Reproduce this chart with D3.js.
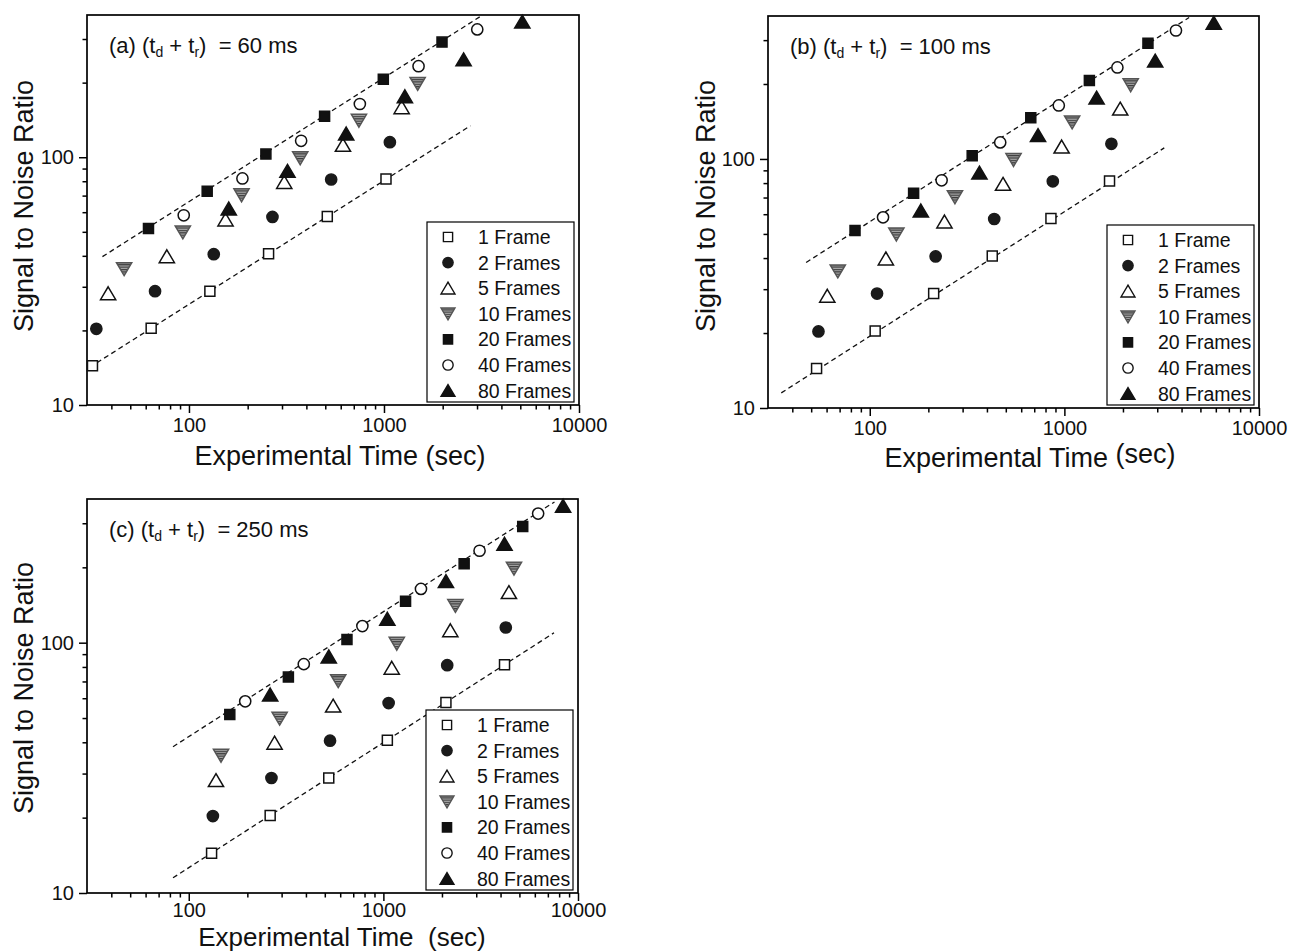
<!DOCTYPE html>
<html><head><meta charset="utf-8">
<script src="https://cdn.jsdelivr.net/npm/d3@7"></script>
<style>
body{margin:0;background:#fff;}
svg{display:block;font-family:"Liberation Sans",Arial,Helvetica,sans-serif;}
</style></head><body>
<svg id="chart" width="1291" height="951"></svg>
<script>
// ---------- data ----------
const seriesNames = ["1 Frame","2 Frames","5 Frames","10 Frames","20 Frames","40 Frames","80 Frames"];

// signal-to-noise ratio (same for every panel)
const snr1  = [14.4, 20.4, 28.8, 40.8, 57.7, 81.6];
const snr2  = [20.3, 28.8, 40.6, 57.4, 81.3, 115];
const snr5  = [28.2, 39.8, 56.0, 79.3, 112, 159];
const snr10 = [35.4, 49.8, 70.3, 99.2, 140.5, 198];
const snr20 = [51.6, 72.9, 103, 146.5, 206.5, 291.5];
const snr40 = [58.3, 82.1, 116.5, 164, 233, 328];
const snr80 = [62, 88, 124.5, 176, 248, 352];

// experimental time (sec), panel (a) 60 ms
const timeA = [
  [32, 64, 128, 256, 512, 1024],
  [33.5, 67, 134, 268, 536, 1072],
  [38.5, 77, 154, 308, 616, 1232],
  [46.5, 93, 186, 372, 744, 1488],
  [62, 124, 248, 496, 992, 1984],
  [94, 188, 376, 752, 1504, 3008],
  [160, 320, 640, 1280, 2560, 5120]
];
// panel (b) 100 ms
const timeB = [
  [53.3, 106.6, 213, 426, 853, 1706],
  [54.5, 109, 218, 436, 872, 1744],
  [60.5, 121, 242, 484, 968, 1936],
  [68.5, 137, 274, 548, 1096, 2192],
  [84, 168, 336, 672, 1344, 2688],
  [117, 234, 468, 936, 1872, 3744],
  [183, 366, 732, 1464, 2928, 5856]
];
// panel (c) 250 ms
const timeC = [
  [131, 262, 524, 1048, 2096, 4192],
  [133, 266, 532, 1064, 2128, 4256],
  [138, 276, 552, 1104, 2208, 4416],
  [146.5, 293, 586, 1172, 2344, 4688],
  [162.5, 325, 650, 1300, 2600, 5200],
  [195, 390, 780, 1560, 3120, 6240],
  [262, 524, 1048, 2096, 4192, 8384]
];

// dashed guide lines (time, snr) end points
const fitA = [[[36, 39.7], [3190, 374]], [[31, 14.2], [2775, 134]]];
const fitB = [[[47.1, 38.4], [4375, 370]], [[35.1, 11.5], [3260, 110.8]]];
const fitC = [[[83, 38.4], [7570, 365]], [[83, 11.5], [7530, 109.5]]];

const xTickLabels = [100, 1000, 10000];
const yTickLabels = [10, 100];
const xMinorTicks = [40,50,60,70,80,90,200,300,400,500,600,700,800,900,2000,3000,4000,5000,6000,7000,8000,9000];
const yMinorTicks = [20,30,40,50,60,70,80,90,200,300];
const xDomain = [30, 10000];
const yDomain = [10, 375];

const panelLetters = ["(a)", "(b)", "(c)"];
const panelDelays = ["60 ms", "100 ms", "250 ms"];

// ---------- drawing ----------
const snrs = [snr1, snr2, snr5, snr10, snr20, snr40, snr80];
const svg = d3.select("#chart");

const defs = svg.append("defs");
const pat = defs.append("pattern").attr("id","hatch").attr("patternUnits","userSpaceOnUse")
  .attr("width",4).attr("height",2.4);
pat.append("rect").attr("width",4).attr("height",2.4).attr("fill","#a8a8a8");
pat.append("rect").attr("width",4).attr("height",1.2).attr("fill","#3c3c3c");

// marker shapes
const markerStyles = [
  {shape:"square",  fill:"#fff", stroke:"#111"},
  {shape:"circle",  fill:"#1a1a1a", stroke:"#1a1a1a"},
  {shape:"triUp",   fill:"#fff", stroke:"#111"},
  {shape:"triDown", fill:"url(#hatch)", stroke:"#555"},
  {shape:"square",  fill:"#111", stroke:"#111"},
  {shape:"circle",  fill:"#fff", stroke:"#111"},
  {shape:"triUp",   fill:"#111", stroke:"#111"}
];
function shapePath(s){
  switch(s){
    case "square": return "M-5,-5H5V5H-5Z";
    case "circle": return "M5.6,0A5.6,5.6 0 1,1 -5.6,0A5.6,5.6 0 1,1 5.6,0Z";
    case "triUp": return "M0,-6.6L7.6,6.3L-7.6,6.3Z";
    case "triDown": return "M0,6.6L7.6,-6.3L-7.6,-6.3Z";
  }
}

const panels = [
  {left:87, right:579, top:15, bottom:405, times:timeA, fits:fitA, tickPad:5,
   yTitleX:33, yTitleY:206, xTitleX:340, xTitleY:465, xTitleSize:27, xTitleStyle:"a"},
  {left:768, right:1259, top:16, bottom:408, times:timeB, fits:fitB, tickPad:5,
   yTitleX:715, yTitleY:206, xTitleX:1030, xTitleY:467, xTitleSize:27, xTitleStyle:"b"},
  {left:87, right:578, top:499, bottom:893, times:timeC, fits:fitC, tickPad:2,
   yTitleX:33, yTitleY:688, xTitleX:342, xTitleY:946, xTitleSize:26, xTitleStyle:"c"}
];

panels.forEach((p, pi) => {
  const g = svg.append("g");
  const x = d3.scaleLog().domain(xDomain).range([p.left, p.right]);
  const y = d3.scaleLog().domain(yDomain).range([p.bottom, p.top]);

  // frame
  g.append("rect").attr("x",p.left).attr("y",p.top)
    .attr("width",p.right-p.left).attr("height",p.bottom-p.top)
    .attr("fill","none").attr("stroke","#000").attr("stroke-width",1.7);

  // x axis (major + minor)
  const xMaj = g.append("g").attr("transform",`translate(0,${p.bottom})`)
    .call(d3.axisBottom(x).tickValues(xTickLabels).tickFormat(d3.format("d")).tickSize(8).tickPadding(p.tickPad));
  const xMin = g.append("g").attr("transform",`translate(0,${p.bottom})`)
    .call(d3.axisBottom(x).tickValues(xMinorTicks).tickFormat("").tickSize(4.5));
  // y axis
  const yMaj = g.append("g").attr("transform",`translate(${p.left},0)`)
    .call(d3.axisLeft(y).tickValues(yTickLabels).tickFormat(d3.format("d")).tickSize(8).tickPadding(5));
  const yMin = g.append("g").attr("transform",`translate(${p.left},0)`)
    .call(d3.axisLeft(y).tickValues(yMinorTicks).tickFormat("").tickSize(4.5));
  [xMaj,xMin,yMaj,yMin].forEach(a=>{
    a.select(".domain").remove();
    a.selectAll("line").attr("stroke","#000").attr("stroke-width",1.5);
    a.selectAll("text").attr("font-size",20).attr("fill","#111")
      .attr("font-family",'"Liberation Sans",Arial,sans-serif');
  });

  // dashed fit lines
  const line = d3.line().x(d=>x(d[0])).y(d=>y(d[1]));
  p.fits.forEach(f=>{
    g.append("path").attr("d",line(f)).attr("fill","none")
      .attr("stroke","#111").attr("stroke-width",1.3).attr("stroke-dasharray","5,3.5");
  });

  // markers
  snrs.forEach((sv, si)=>{
    const st = markerStyles[si];
    const pts = sv.map((v,i)=>[p.times[si][i], v]);
    g.selectAll(null).data(pts).enter().append("path")
      .attr("d", shapePath(st.shape))
      .attr("transform", d=>`translate(${x(d[0])},${y(d[1])})`)
      .attr("fill", st.fill).attr("stroke", st.stroke).attr("stroke-width",1.5);
  });

  // legend
  const lw = 147, lh = 180;
  const lx = p.right - 5 - lw, ly = p.bottom - 3 - lh;
  const lg = g.append("g").attr("transform",`translate(${lx},${ly})`);
  lg.append("rect").attr("width",lw).attr("height",lh).attr("fill","#fff")
    .attr("stroke","#000").attr("stroke-width",1.2);
  seriesNames.forEach((name, si)=>{
    const st = markerStyles[si];
    const ry = 15 + si*25.6;
    lg.append("path").attr("d", shapePath(st.shape))
      .attr("transform",`translate(21,${ry}) scale(0.92)`)
      .attr("fill", st.fill).attr("stroke", st.stroke).attr("stroke-width",1.5);
    lg.append("text").attr("x",51).attr("y",ry).attr("dy","0.36em")
      .attr("font-size",19.5).attr("fill","#111").text(name);
  });

  // panel title with subscripts
  const t = g.append("text").attr("x",p.left+22).attr("y",p.top+38)
    .attr("font-size",22).attr("fill","#111").style("white-space","pre");
  t.append("tspan").text(panelLetters[pi] + " (t");
  t.append("tspan").attr("font-size",14).attr("dy",4).text("d");
  t.append("tspan").attr("dy",-4).text(" + t");
  t.append("tspan").attr("font-size",14).attr("dy",4).text("r");
  t.append("tspan").attr("dy",-4).text(")  = " + panelDelays[pi]);

  // axis titles
  g.append("text").attr("transform",`translate(${p.yTitleX},${p.yTitleY}) rotate(-90)`)
    .attr("text-anchor","middle").attr("font-size",27).attr("fill","#111")
    .text("Signal to Noise Ratio");
  const xt = g.append("text").attr("x",p.xTitleX).attr("y",p.xTitleY)
    .attr("text-anchor","middle").attr("font-size",p.xTitleSize).attr("fill","#111").style("white-space","pre");
  if (p.xTitleStyle === "b") {
    xt.append("tspan").text("Experimental Time ");
    xt.append("tspan").attr("dy",-4).text("(sec)");
  } else if (p.xTitleStyle === "c") {
    xt.text("Experimental Time  (sec)");
  } else {
    xt.text("Experimental Time (sec)");
  }
});
</script>
</body></html>
